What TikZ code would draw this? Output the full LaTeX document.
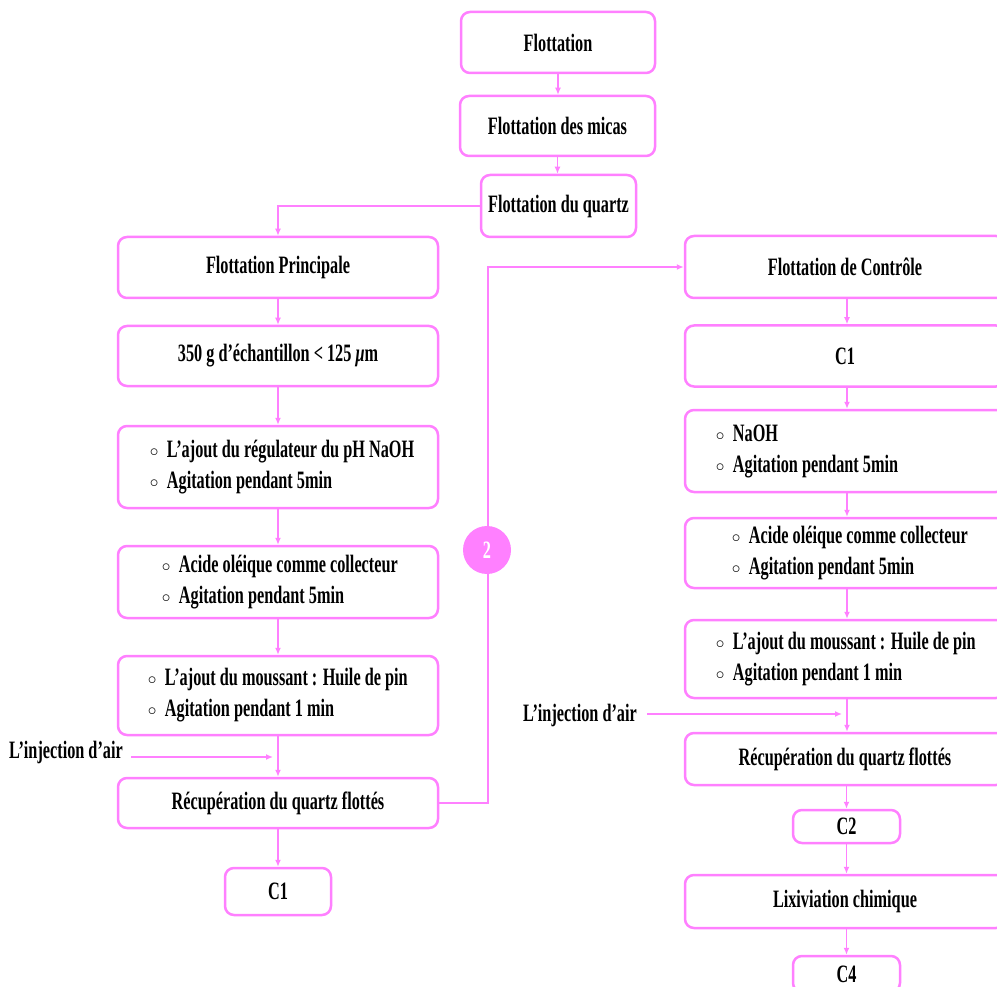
\documentclass[tikz,border=0pt]{standalone}
\usepackage{fontspec}
\setmainfont{Liberation Serif}[FakeStretch=0.65]
\usetikzlibrary{arrows.meta}
\definecolor{pinkline}{RGB}{255,128,255}
% small hollow bullet for the list boxes
\newcommand\hollowbul{\makebox[17pt][l]{\raisebox{1pt}{\fontsize{19}{19}\selectfont$\circ$}}}
\begin{document}
\begin{tikzpicture}[x=1pt,y=-1pt,
  txt/.style={font=\fontsize{25}{31}\selectfont\bfseries, text=black},
  box/.style={txt, draw=pinkline, line width=2.5pt, rounded corners=9pt, inner sep=0pt,
    minimum width=320pt},
  items/.style={txt, align=left, inner sep=0pt, anchor=west},
  flow/.style={draw=pinkline, line width=1.8pt, -{Latex[length=7pt,width=6pt]}},
  badge/.style={circle, fill=pinkline, minimum size=48pt, inner sep=0pt, text=white,
    font=\fontsize{25}{25}\selectfont\bfseries}]
\clip (0,0) rectangle (997,987);
\fill[white] (0,0) rectangle (997,987);

% top chain
\node[box, minimum width=194pt, minimum height=61pt] (f1) at (558,42.5) {Flottation};
\node[box, minimum width=195pt, minimum height=60pt] (f2) at (557.5,126) {Flottation des micas};
\node[box, minimum width=155pt, minimum height=62pt] (f3) at (558.5,206) {Flottation du quartz};
\draw[flow] (f1.south) -- (f2.north -| f1.south);
\draw[flow] (f2.south) -- (f3.north -| f2.south);

% main flotation column
\node[box, minimum height=61pt] (p1) at (278,267.5) {Flottation Principale};
\node[box, minimum height=60pt] (p2) at (278,356) {350 g d’échantillon < 125 \textit{μ}m};
\node[box, minimum height=82pt] (p3) at (278,467) {};
\node[items] (p3t) at ([xshift=33pt]p3.west) {\hollowbul L’ajout du régulateur du pH NaOH\\ \hollowbul Agitation pendant 5min};
\node[box, minimum height=72pt] (p4) at (278,582) {};
\node[items] (p4t) at ([xshift=45pt]p4.west) {\hollowbul Acide oléique comme collecteur\\ \hollowbul Agitation pendant 5min};
\node[box, minimum height=79pt] (p5) at (278,695.5) {};
\node[items] (p5t) at ([xshift=31pt]p5.west) {\hollowbul L’ajout du moussant : Huile de pin\\ \hollowbul Agitation pendant 1 min};
\node[box, minimum height=50pt] (p6) at (278,803) {Récupération du quartz flottés};
\node[box, minimum width=106pt, minimum height=47pt] (p7) at (278,891.5) {C1};

\draw[flow] (f3.west) -| (p1.north);
\draw[flow] (p1.south) -- (p2.north);
\draw[flow] (p2.south) -- (p3.north);
\draw[flow] (p3.south) -- (p4.north);
\draw[flow] (p4.south) -- (p5.north);
\draw[flow] (p5.south) -- (p6.north);
\draw[flow] (p6.south) -- (p7.north);

\node[txt, anchor=east, inner sep=0pt] (air1) at (123,752) {L’injection d’air};
\coordinate (air1a) at (131,757);
\coordinate (air1b) at (273,757);
\draw[flow] (air1a) -- (air1b);

% control flotation column
\node[box, minimum height=62pt] (q1) at (845,267) {Flottation de Contrôle};
\node[box, minimum height=61pt] (q2) at (845,356) {C1};
\node[box, minimum height=82pt] (q3) at (845,451) {};
\node[items] (q3t) at ([xshift=32pt]q3.west) {\hollowbul NaOH\\ \hollowbul Agitation pendant 5min};
\node[box, minimum height=70pt] (q4) at (845,553) {};
\node[items] (q4t) at ([xshift=48pt]q4.west) {\hollowbul Acide oléique comme collecteur\\ \hollowbul Agitation pendant 5min};
\node[box, minimum height=78pt] (q5) at (845,659) {};
\node[items] (q5t) at ([xshift=32pt]q5.west) {\hollowbul L’ajout du moussant : Huile de pin\\ \hollowbul Agitation pendant 1 min};
\node[box, minimum height=52pt] (q6) at (845,759) {Récupération du quartz flottés};
\node[box, minimum width=107pt, minimum height=33pt] (q7) at (846.5,826.5) {C2};
\node[box, minimum height=53pt] (q8) at (845,901.5) {Lixiviation chimique};
\node[box, minimum width=107pt, minimum height=36pt] (q9) at (846.5,974) {C4};

\draw[flow] ([xshift=2pt]q1.south) -- ([xshift=2pt]q2.north);
\draw[flow] ([xshift=2pt]q2.south) -- ([xshift=2pt]q3.north);
\draw[flow] ([xshift=2pt]q3.south) -- ([xshift=2pt]q4.north);
\draw[flow] ([xshift=2pt]q4.south) -- ([xshift=2pt]q5.north);
\draw[flow] ([xshift=2pt]q5.south) -- ([xshift=2pt]q6.north);
\draw[flow] (q6.south -| q7.north) -- (q7.north);
\draw[flow] (q7.south) -- (q8.north -| q7.south);
\draw[flow] (q8.south -| q9.north) -- (q9.north);

\node[txt, anchor=east, inner sep=0pt] (air2) at (637,715) {L’injection d’air};
\coordinate (air2a) at (647,714);
\coordinate (air2b) at (842,714);
\draw[flow] (air2a) -- (air2b);

% transfer from the main to the control flotation
\draw[flow] (p6.east) -- ++(49,0) |- (q1.west);
\node[badge] (n2) at (487,550) {2};
\end{tikzpicture}
\end{document}
